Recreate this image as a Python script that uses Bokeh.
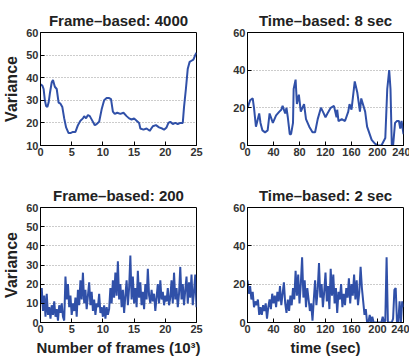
import numpy as np
from bokeh.plotting import figure
from bokeh.layouts import gridplot
from bokeh.models import Range1d, FixedTicker
from bokeh.embed import file_html
from bokeh.resources import INLINE

# ---- data ----
titles = ["Frame\u2013based: 4000", "Time\u2013based: 8 sec",
          "Frame\u2013based: 200", "Time\u2013based: 2 sec"]

fb4000_x = [0, 0.3, 0.5, 0.7, 0.9, 1.1, 1.3, 1.5, 1.8, 2.0, 2.3, 2.6, 2.9, 3.2, 3.5, 3.8,
            4.1, 4.5, 4.8, 5.2, 5.6, 6.0, 6.4, 6.8, 7.0, 7.3, 7.6, 7.9, 8.3, 8.7, 9.0, 9.4,
            9.8, 10.2, 10.6, 11.0, 11.3, 11.6, 11.9, 12.3, 12.8, 13.3, 13.8, 14.2, 14.6, 15.0,
            15.4, 15.8, 16.0, 16.5, 17.0, 17.5, 18.0, 18.5, 19.0, 19.5, 19.8, 20.2, 20.5, 20.8,
            21.2, 21.6, 22.0, 22.4, 22.8, 23.0, 23.3, 23.6, 23.9, 24.2, 24.5, 24.8, 25.0]
fb4000_y = [37, 36.5, 35, 30, 27.5, 27, 29, 33, 38, 39, 36, 35, 29, 28.5, 27, 22,
            18, 15.5, 15.5, 16, 16, 19, 21, 22, 23, 22, 23.5, 23, 21, 19, 19.5, 20.5,
            26, 30, 31, 31, 30.5, 25, 24, 24.5, 24, 24.5, 23, 22, 21.5, 22,
            21, 20, 17.5, 17, 17.5, 16.5, 18.5, 19, 18, 17.5, 17, 18, 20, 20.5,
            19.5, 20, 19.5, 20, 20, 27, 35, 44, 47, 47.5, 48, 50, 51]

tb8_x = [0, 4, 8, 10, 13, 18, 20, 23, 27, 31, 34, 39, 44, 49, 52, 54, 58, 60, 62, 65,
         67, 70, 71, 74, 76, 79, 82, 87, 90, 95, 100, 104, 108, 113, 116, 120, 123, 128,
         133, 137, 138, 140, 145, 150, 155, 157, 160, 165, 169, 173, 175, 181, 184, 191,
         196, 201, 206, 212, 215, 218, 220, 222, 224, 227, 230, 233, 235, 237, 240]
tb8_y = [20, 24, 25, 20, 10, 17, 12, 8, 7, 8, 17, 12, 16, 18, 19, 21, 17, 20, 15, 6,
         6, 12, 30, 35, 22, 27, 18, 22, 14, 10, 7, 7, 14, 20, 18, 15, 17, 20,
         21, 15, 19, 13, 14, 13, 18, 22, 19, 34, 28, 18, 25, 18, 10, 3,
         1, 0, 0, 4, 30, 40, 30, 0, 0, 12, 13, 13, 9, 13, 6]

fb200_y = [10, 18, 6, 14, 3, 15, 4, 8, 2, 9, 4, 11, 3, 7, 1, 9, 5, 10, 3, 1,
           24, 12, 20, 8, 14, 4, 10, 6, 13, 3, 17, 9, 22, 12, 26, 10, 17, 7, 14, 21,
           9, 16, 6, 12, 4, 10, 8, 15, 5, 8, 3, 9, 2, 8, 4, 7, 18, 10, 22, 13,
           26, 14, 32, 12, 20, 8, 17, 5, 14, 22, 9, 18, 35, 12, 24, 10, 18, 8, 27, 13,
           21, 9, 16, 7, 20, 12, 28, 14, 10, 17, 11, 15, 6, 13, 20, 10, 22, 12, 16, 9,
           14, 11, 18, 9, 13, 22, 10, 26, 12, 18, 8, 15, 29, 12, 20, 9, 17, 24, 10, 21,
           13, 25, 9, 16, 25, 8]
fb200_x = list(np.linspace(0, 25, len(fb200_y)))

tb2_y = [22, 15, 19, 12, 16, 8, 11, 9, 12, 4, 8, 4, 9, 6, 10, 2, 8, 12, 7, 15,
         10, 14, 8, 16, 11, 19, 9, 15, 21, 10, 5, 12, 6, 14, 9, 18, 12, 27, 14, 25,
         10, 20, 34, 13, 22, 8, 18, 12, 6, 10, 1, 12, 22, 9, 17, 31, 13, 20, 8, 16,
         26, 11, 19, 7, 28, 14, 25, 10, 18, 5, 16, 12, 20, 8, 15, 9, 18, 13, 23, 10,
         20, 14, 25, 12, 22, 9, 16, 29, 18, 11, 4, 7, 0, 0, 4, 0, 3, 0, 0, 0,
         0, 0, 0, 0, 3, 0, 1, 34, 0, 0, 0, 0, 2, 17, 18, 0, 0, 11, 0, 11, 8]
tb2_x = list(np.linspace(0, 240, len(tb2_y)))

xs = [fb4000_x, tb8_x, fb200_x, tb2_x]
ys = [fb4000_y, tb8_y, fb200_y, tb2_y]
xranges = [(0, 25), (0, 240), (0, 25), (0, 240)]
yranges = [(10, 60), (0, 60), (0, 60), (0, 60)]
xticks = [[0, 5, 10, 15, 20, 25], [0, 40, 80, 120, 160, 200, 240]] * 2
yticks = [[10, 20, 30, 40, 50, 60], [0, 20, 40, 60], [0, 10, 20, 30, 40, 50, 60], [0, 20, 40, 60]]
ylabels = ["Variance", None, "Variance", None]
xlabels = [None, None, "Number of frames (10\u00b3)", "time (sec)"]

FONT = "Liberation Sans"
BLUE = "#3050a8"

borders = [  # left, right, top, bottom
    (39, 9, 32, 33),
    (40, 9, 32, 33),
    (40, 8, 29, 36),
    (42, 6, 29, 36),
]

figs = []
for i in range(4):
    l, r, t, b = borders[i]
    p = figure(frame_width=156, frame_height=113 if i < 2 else 115,
               output_backend="svg", toolbar_location=None,
               x_range=Range1d(*xranges[i]), y_range=Range1d(*yranges[i]),
               min_border_left=l, min_border_right=r, min_border_top=t, min_border_bottom=b,
               background_fill_color="white", border_fill_color="white")
    p.line(xs[i], ys[i], line_color=BLUE, line_width=2)
    p.title.text = titles[i]
    p.title.align = "center"
    p.title.text_font = FONT
    p.title.text_font_size = "15px"
    p.title.text_font_style = "bold"
    p.title.text_color = "#222222"
    p.title.standoff = 7
    p.outline_line_color = "black"
    p.outline_line_width = 1
    p.outline_line_alpha = 1
    p.xgrid.visible = False
    p.ygrid.grid_line_color = "#999999"
    p.ygrid.grid_line_dash = "1 2"
    p.ygrid.ticker = FixedTicker(ticks=yticks[i])
    p.xaxis.ticker = FixedTicker(ticks=xticks[i])
    p.yaxis.ticker = FixedTicker(ticks=yticks[i])
    for ax in (p.xaxis[0], p.yaxis[0]):
        ax.major_tick_in = 4
        ax.major_tick_out = 0
        ax.minor_tick_line_color = None
        ax.axis_line_color = "black"
        ax.major_label_text_font = FONT
        ax.major_label_text_font_style = "bold"
        ax.major_label_text_font_size = "11px"
        ax.major_label_text_color = "#333333"
        ax.major_label_standoff = 2
        ax.axis_label_text_font = FONT
        ax.axis_label_text_font_style = "bold"
        ax.axis_label_text_color = "#222222"
        ax.axis_label_standoff = 3
    p.yaxis.axis_label_text_font_size = "16px"
    p.xaxis.axis_label_text_font_size = "15px"
    if ylabels[i]:
        p.yaxis.axis_label = ylabels[i]
    if xlabels[i]:
        p.xaxis.axis_label = xlabels[i]
    figs.append(p)

grid = gridplot([[figs[0], figs[1]], [figs[2], figs[3]]], toolbar_location=None)

open("out.html", "w").write(file_html(grid, INLINE))
